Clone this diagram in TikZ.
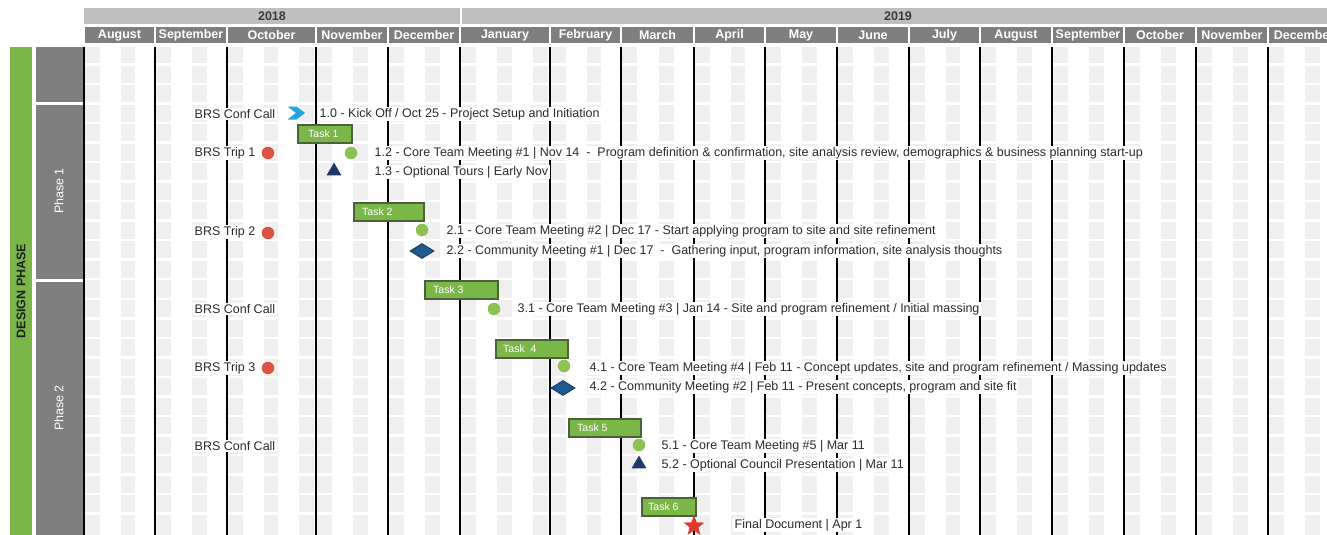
\documentclass[tikz,border=0pt]{standalone}
\usepackage{fontspec}
\setmainfont{Liberation Sans}
\usetikzlibrary{shapes.geometric}
\definecolor{hdrgray}{HTML}{7F7F7F}
\definecolor{yeargray}{HTML}{BFBFBF}
\definecolor{yeartext}{HTML}{3A3A3A}
\definecolor{cellgray}{HTML}{EFEFEF}
\definecolor{phgreen}{HTML}{7AB648}
\definecolor{taskgreen}{HTML}{7AB648}
\definecolor{taskborder}{HTML}{4A6238}
\definecolor{dotred}{HTML}{DB5443}
\definecolor{dotgreen}{HTML}{8DC153}
\definecolor{navy}{HTML}{1F3864}
\definecolor{diafill}{HTML}{1F5B8E}
\definecolor{diaborder}{HTML}{163F66}
\definecolor{chevblue}{HTML}{22A5DE}
\definecolor{starred}{HTML}{E0392F}
\definecolor{txt}{HTML}{2B2B2B}
\begin{document}
\begin{tikzpicture}[x=1pt,y=-1pt,
  monthlbl/.style={text=white, font=\bfseries\fontsize{12.5}{14}\selectfont, inner sep=0pt},
  yearlbl/.style={text=yeartext, font=\bfseries\fontsize{12.5}{14}\selectfont, inner sep=0pt},
  lbl/.style={anchor=west, fill=white, inner sep=1.5pt, text=txt, font=\fontsize{12.5}{14}\selectfont},
  taskbar/.style={draw=taskborder, fill=taskgreen, line width=1.5pt, minimum height=18pt, inner sep=0pt, anchor=north west},
  tasklbl/.style={anchor=west, text=white, font=\fontsize{10.5}{12}\selectfont, inner sep=0pt},
  reddot/.style={circle, fill=dotred, minimum size=12.5pt, inner sep=0pt},
  greendot/.style={circle, fill=dotgreen, minimum size=12.5pt, inner sep=0pt},
  trimark/.style={regular polygon, regular polygon sides=3, fill=navy, minimum size=17pt, inner sep=0pt},
  diamark/.style={diamond, fill=diafill, draw=diaborder, line width=1pt, minimum width=24pt, minimum height=15pt, inner sep=0pt, aspect=1.6},
  starmark/.style={star, star points=5, star point ratio=2.4, fill=starred, minimum size=22pt, inner sep=0pt},
  sidelbl/.style={rotate=90, font=\fontsize{12.5}{14}\selectfont, inner sep=0pt}
]
\useasboundingbox (0,0) rectangle (1327,535);
\begin{scope}
\clip (0,0) rectangle (1327,535);
% year bars
\fill[yeargray] (84,8) rectangle (460,24);
\fill[yeargray] (462,8) rectangle (1340,24);
\node[yearlbl] (y2018) at (272,16) {2018};
\node[yearlbl] (y2019) at (898,16) {2019};
% months
\foreach \s/\e/\n/\m in {84/155/4/August, 155/227/4/September, 227/316/5/October, 316/388/4/November, 388/460/4/December, 460/550/5/January, 550/621/4/February, 621/694/4/March, 694/765/4/April, 765/837/4/May, 837/909/4/June, 909/980/4/July, 980/1052/4/August, 1052/1124/4/September, 1124/1196/4/October, 1196/1268/4/November, 1268/1340/4/December}{
  \fill[hdrgray] (\s+1,27) rectangle (\e-1,43);
  \node[monthlbl] (m\s) at ({(\s+\e)/2},35.5) {\m};
  \pgfmathsetmacro\w{(\e-\s)/\n}
  \foreach \i in {0,2,4}{
    \ifnum\i<\n\relax
      \fill[cellgray] ({\s+\i*\w+1},47) rectangle ({\s+(\i+1)*\w-2},535);
    \fi
  }
}
% row separators
\foreach \k in {1,...,24}{
  \draw[white, line width=2.5pt] (84,{45+19.52*\k}) -- (1340,{45+19.52*\k});
}
% month lines
\foreach \s in {84,155,227,316,388,460,550,621,694,765,837,909,980,1052,1124,1196,1268}{
  \draw[black, line width=1.5pt] (\s,47) -- (\s,535);
}
% left panel
\fill[phgreen] (10,47) rectangle (32,535);
\fill[hdrgray] (36,47) rectangle (83,102);
\fill[hdrgray] (36,104.5) rectangle (83,279);
\fill[hdrgray] (36,281.5) rectangle (83,535);
\node[sidelbl, font=\bfseries\fontsize{12.5}{14}\selectfont, text=black!88] (design) at (21,291) {DESIGN PHASE};
\node[sidelbl, text=white] (ph1) at (59,191) {Phase 1};
\node[sidelbl, text=white] (ph2) at (59,408) {Phase 2};

% Row: kick-off
\node[lbl] (brs1) at (193,114) {BRS Conf Call};
\coordinate (kick) at (296,113);
\fill[chevblue] ([shift={(-8.5,-6.5)}]kick) -- ([shift={(0.5,-6.5)}]kick) -- ([shift={(9,0)}]kick) -- ([shift={(0.5,6.5)}]kick) -- ([shift={(-8.5,6.5)}]kick) -- ([shift={(0,0)}]kick) -- cycle;
\node[lbl] (t10) at (318,114) {1.0 - Kick Off / Oct 25 - Project Setup and Initiation};
% Task 1
\node[taskbar, minimum width=54pt] (task1) at (297,124) {};
\node[tasklbl] (task1l) at ([xshift=11pt]task1.west) {Task 1};
\node[lbl] (brs2) at (193,153) {BRS Trip 1};
\node[reddot] (r1) at (268,153) {};
\node[greendot] (g12) at (351,153) {};
\node[lbl] (t12) at (373,153) {1.2 - Core Team Meeting \#1 | Nov 14 ~-~ Program definition \& confirmation, site analysis review, demographics \& business planning start-up};
\node[trimark] (tr13) at (334,171) {};
\node[lbl] (t13) at (373,172) {1.3 - Optional Tours | Early Nov};
% Task 2
\node[taskbar, minimum width=70pt] (task2) at (353,202) {};
\node[tasklbl] (task2l) at ([xshift=9pt]task2.west) {Task 2};
\node[lbl] (brs3) at (193,232) {BRS Trip 2};
\node[reddot] (r2) at (268,233) {};
\node[greendot] (g21) at (422,230) {};
\node[lbl] (t21) at (445,231) {2.1 - Core Team Meeting \#2 | Dec 17 - Start applying program to site and site refinement};
\node[diamark] (d22) at (422,251) {};
\node[lbl] (t22) at (445,251) {2.2 - Community Meeting \#1 | Dec 17 ~-~ Gathering input, program information, site analysis thoughts};
% Task 3
\node[taskbar, minimum width=73pt] (task3) at (424,280) {};
\node[tasklbl] (task3l) at ([xshift=9pt]task3.west) {Task 3};
\node[lbl] (brs4) at (193,309) {BRS Conf Call};
\node[greendot] (g31) at (494,309) {};
\node[lbl] (t31) at (516,309) {3.1 - Core Team Meeting \#3 | Jan 14 - Site and program refinement / Initial massing};
% Task 4
\node[taskbar, minimum width=72pt] (task4) at (495,339) {};
\node[tasklbl] (task4l) at ([xshift=8pt]task4.west) {Task\ \ 4};
\node[lbl] (brs5) at (193,368) {BRS Trip 3};
\node[reddot] (r3) at (268,368) {};
\node[greendot] (g41) at (564,366) {};
\node[lbl] (t41) at (588,368) {4.1 - Core Team Meeting \#4 | Feb 11 - Concept updates, site and program refinement / Massing updates};
\node[diamark] (d42) at (563,388) {};
\node[lbl] (t42) at (588,387) {4.2 - Community Meeting \#2 | Feb 11 - Present concepts, program and site fit};
% Task 5
\node[taskbar, minimum width=72pt] (task5) at (568,418) {};
\node[tasklbl] (task5l) at ([xshift=9pt]task5.west) {Task 5};
\node[lbl] (brs6) at (193,446) {BRS Conf Call};
\node[greendot] (g51) at (639,445) {};
\node[lbl] (t51) at (660,446) {5.1 - Core Team Meeting \#5 | Mar 11};
\node[trimark] (tr52) at (639,464) {};
\node[lbl] (t52) at (660,465) {5.2 - Optional Council Presentation | Mar 11};
% Task 6
\node[taskbar, minimum width=54pt] (task6) at (641,497) {};
\node[tasklbl] (task6l) at ([xshift=7pt]task6.west) {Task 6};
\node[starmark] (st) at (694,526) {};
\node[lbl] (tfin) at (733,525) {Final Document | Apr 1};
\end{scope}
\end{tikzpicture}
\end{document}
